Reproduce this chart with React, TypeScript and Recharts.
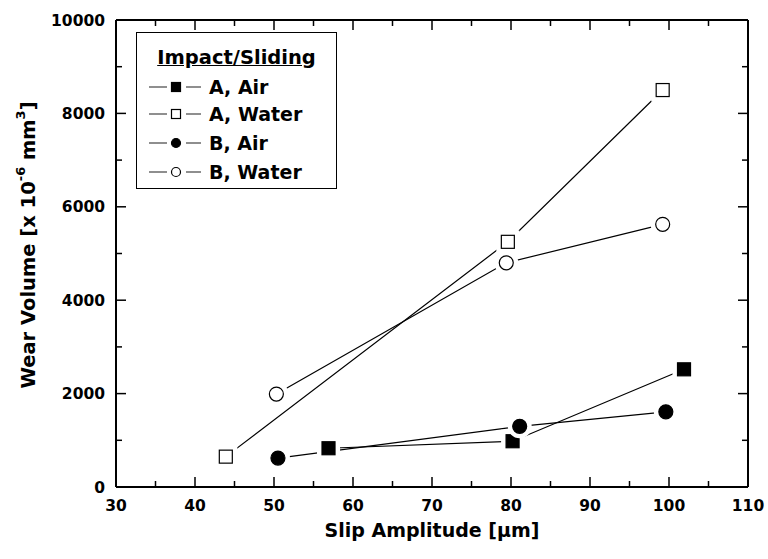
import { ComposedChart, Legend, Scatter, XAxis, YAxis } from "recharts";

const FONT = '"DejaVu Sans", Verdana, sans-serif';
const INK = "#000";

// slip amplitude (um) / wear volume (x1e-6 mm3)
const aAirX = [56.9, 80.2, 101.9];
const aAirY = [830, 980, 2520];
const aWaterX = [43.9, 79.6, 99.2];
const aWaterY = [650, 5250, 8500];
const bAirX = [50.5, 81.1, 99.6];
const bAirY = [620, 1300, 1610];
const bWaterX = [50.3, 79.4, 99.2];
const bWaterY = [1990, 4800, 5625];

const xTicks = [30, 35, 40, 45, 50, 55, 60, 65, 70, 75, 80, 85, 90, 95, 100, 105, 110];
const xMajor = [30, 40, 50, 60, 70, 80, 90, 100, 110];
const yTicks = [0, 1000, 2000, 3000, 4000, 5000, 6000, 7000, 8000, 9000, 10000];
const yMajor = [0, 2000, 4000, 6000, 8000, 10000];

const zip = (xs: number[], ys: number[]) => xs.map((x, i) => ({ x, y: ys[i] }));

const series = [
  { name: "A, Air", kind: "square", filled: true, data: zip(aAirX, aAirY) },
  { name: "A, Water", kind: "square", filled: false, data: zip(aWaterX, aWaterY) },
  { name: "B, Air", kind: "circle", filled: true, data: zip(bAirX, bAirY) },
  { name: "B, Water", kind: "circle", filled: false, data: zip(bWaterX, bWaterY) },
];

function Marker({ cx, cy, kind, filled, size, halo }: any) {
  const h = size / 2;
  const fill = filled ? INK : "#fff";
  return (
    <g>
      {halo > 0 &&
        (kind === "square" ? (
          <rect x={cx - h - halo} y={cy - h - halo} width={size + 2 * halo} height={size + 2 * halo} fill="#fff" />
        ) : (
          <circle cx={cx} cy={cy} r={h + halo} fill="#fff" />
        ))}
      {kind === "square" ? (
        <rect x={cx - h} y={cy - h} width={size} height={size} fill={fill} stroke={INK} strokeWidth={1.2} />
      ) : (
        <circle cx={cx} cy={cy} r={h} fill={fill} stroke={INK} strokeWidth={1.2} />
      )}
    </g>
  );
}

const tickText = { fontFamily: FONT, fontWeight: "bold" as const, fontSize: 15.5, fill: INK };

function BottomTick({ x, y, payload }: any) {
  const major = xMajor.includes(payload.value);
  return (
    <g>
      <line x1={x} x2={x} y1={y} y2={y - (major ? 10 : 6)} stroke={INK} strokeWidth={1.5} />
      {major && (
        <text x={x} y={y + 24} textAnchor="middle" {...tickText}>
          {payload.value}
        </text>
      )}
    </g>
  );
}

function TopTick({ x, y, payload }: any) {
  const major = xMajor.includes(payload.value);
  return <line x1={x} x2={x} y1={y} y2={y + (major ? 10 : 6)} stroke={INK} strokeWidth={1.5} />;
}

function LeftTick({ x, y, payload }: any) {
  const major = yMajor.includes(payload.value);
  return (
    <g>
      <line x1={x} x2={x + (major ? 10 : 6)} y1={y} y2={y} stroke={INK} strokeWidth={1.5} />
      {major && (
        <text x={x - 11} y={y} dy={5.5} textAnchor="end" {...tickText}>
          {payload.value}
        </text>
      )}
    </g>
  );
}

function RightTick({ x, y, payload }: any) {
  const major = yMajor.includes(payload.value);
  return <line x1={x} x2={x - (major ? 10 : 6)} y1={y} y2={y} stroke={INK} strokeWidth={1.5} />;
}

function YTitle() {
  return (
    <text
      x={28}
      y={245}
      transform="rotate(-90, 28, 245)"
      textAnchor="middle"
      dominantBaseline="central"
      fontFamily={FONT}
      fontWeight="bold"
      fontSize={19.5}
      fill={INK}
    >
      <tspan>Wear Volume [x 10</tspan>
      <tspan dy={-8} fontSize={13}>-6</tspan>
      <tspan dy={8}> mm</tspan>
      <tspan dy={-8} fontSize={13}>3</tspan>
      <tspan dy={8}>]</tspan>
    </text>
  );
}

function LegendBox() {
  const rows = [54, 81, 110, 139];
  return (
    <div
      style={{
        position: "relative",
        width: 201,
        height: 157,
        boxSizing: "border-box",
        border: "1.5px solid #000",
        background: "#fff",
        fontFamily: FONT,
        fontWeight: "bold",
        fontSize: 19,
        color: INK,
      }}
    >
      <div
        style={{
          position: "absolute",
          left: 0,
          right: 0,
          top: 13,
          textAlign: "center",
          textDecoration: "underline",
          lineHeight: "24px",
          fontSize: 19.5,
        }}
      >
        Impact/Sliding
      </div>
      {series.map((s, i) => (
        <div key={s.name} style={{ position: "absolute", left: 12, top: rows[i] - 12, height: 24, display: "flex", alignItems: "center" }}>
          <svg width={58} height={24} style={{ display: "block" }}>
            <line x1={0} x2={18} y1={12} y2={12} stroke="#444" strokeWidth={1.2} />
            <Marker cx={27} cy={12} kind={s.kind} filled={s.filled} size={9} halo={0} />
            <line x1={37} x2={52} y1={12} y2={12} stroke="#444" strokeWidth={1.2} />
          </svg>
          <span style={{ marginLeft: 2, lineHeight: "24px" }}>{s.name}</span>
        </div>
      ))}
    </div>
  );
}

export default function App() {
  return (
    <div style={{ position: "absolute", left: 0, top: 0, width: 768, height: 559, background: "#fff" }}>
      <ComposedChart width={768} height={559} margin={{ top: 0, right: 0, bottom: 0, left: 0 }}>
        <XAxis
          xAxisId="bottom"
          dataKey="x"
          type="number"
          domain={[30, 110]}
          ticks={xTicks}
          interval={0}
          height={72}
          tickSize={0}
          tickMargin={0}
          tick={<BottomTick />}
          axisLine={{ stroke: INK, strokeWidth: 2 }}
          tickLine={false}
          allowDataOverflow
          label={{
            value: "Slip Amplitude [\u03bcm]",
            position: "insideBottom",
            offset: 22,
            style: { fontFamily: FONT, fontWeight: "bold", fontSize: 19, fill: INK },
          }}
        />
        <XAxis
          xAxisId="top"
          orientation="top"
          dataKey="x"
          type="number"
          domain={[30, 110]}
          ticks={xTicks}
          interval={0}
          height={20}
          tickSize={0}
          tickMargin={0}
          tick={<TopTick />}
          axisLine={{ stroke: INK, strokeWidth: 2 }}
          tickLine={false}
          allowDataOverflow
        />
        <YAxis
          yAxisId="left"
          dataKey="y"
          type="number"
          domain={[0, 10000]}
          ticks={yTicks}
          interval={0}
          width={116}
          tickSize={0}
          tickMargin={0}
          tick={<LeftTick />}
          axisLine={{ stroke: INK, strokeWidth: 2 }}
          tickLine={false}
          allowDataOverflow
          label={<YTitle />}
        />
        <YAxis
          yAxisId="right"
          orientation="right"
          dataKey="y"
          type="number"
          domain={[0, 10000]}
          ticks={yTicks}
          interval={0}
          width={20}
          tickSize={0}
          tickMargin={0}
          tick={<RightTick />}
          axisLine={{ stroke: INK, strokeWidth: 2 }}
          tickLine={false}
          allowDataOverflow
        />
        {series.map((s) => (
          <Scatter
            key={s.name + "-line"}
            xAxisId="bottom"
            yAxisId="left"
            data={s.data}
            line={{ stroke: INK, strokeWidth: 1.2 }}
            lineJointType="linear"
            shape={() => <g />}
            legendType="none"
            isAnimationActive={false}
          />
        ))}
        {series.map((s) => (
          <Scatter
            key={s.name}
            name={s.name}
            xAxisId="bottom"
            yAxisId="left"
            data={s.data}
            fill={INK}
            shape={(p: any) => <Marker cx={p.cx} cy={p.cy} kind={s.kind} filled={s.filled} size={s.kind === "square" ? 13 : 14} halo={5} />}
            isAnimationActive={false}
          />
        ))}
        <Legend
          layout="vertical"
          align="center"
          verticalAlign="middle"
          wrapperStyle={{ left: 136, top: 32, width: 201, height: 157 }}
          content={() => <LegendBox />}
        />
      </ComposedChart>
    </div>
  );
}
